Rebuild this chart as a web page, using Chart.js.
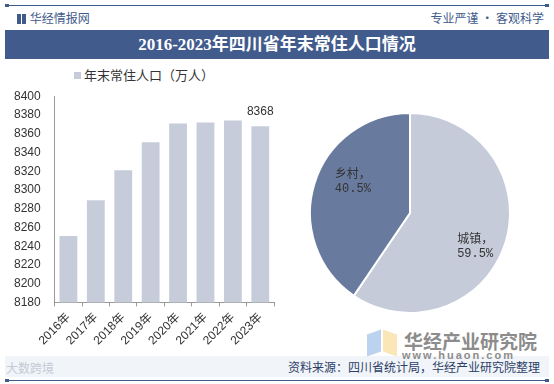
<!DOCTYPE html>
<html>
<head>
<meta charset="utf-8">
<script src="https://cdn.jsdelivr.net/npm/chart.js@4"></script>
<style>
  body { margin: 0; width: 554px; height: 384px; position: relative; overflow: hidden; background: #fff;
    font-family: "Noto Sans CJK SC", "Liberation Sans", sans-serif; }
  .topline { position: absolute; left: 5px; top: 5px; width: 544px; height: 1px; background: #3f5b8c; }
  .topline:before, .topline:after { content: ''; position: absolute; top: -1px; width: 4px; height: 3px; background: #3f5b8c; }
  .topline:before { left: 0; } .topline:after { right: 0; }
  .brand { position: absolute; left: 17px; top: 9px; font-size: 12px; color: #3f5b8c; line-height: 18px; }
  .brand i { display: inline-block; width: 4px; height: 10px; background: #3f5b8c; margin-right: 1px; vertical-align: -1px; }
  .motto { position: absolute; right: 10px; top: 9px; font-size: 12px; color: #3f5b8c; line-height: 18px; }
  .title { position: absolute; left: 5px; top: 30px; width: 544px; height: 29px; background: #415b8d; color: #fff;
    text-align: center; line-height: 29px; font-size: 17px; font-weight: bold;
    font-family: "Liberation Serif", "Noto Sans CJK SC", serif; }
  .legend { position: absolute; left: 74px; top: 66px; font-size: 13px; color: #333; line-height: 18px; }
  .legend i { display: inline-block; width: 7px; height: 7px; background: #c6ccda; margin-right: 3px; vertical-align: 1px; }
  #bar { position: absolute; left: 0; top: 83px; }
  #pie { position: absolute; left: 306px; top: 109px; }
  .band { position: absolute; left: 5px; top: 356px; width: 544px; height: 21px; background: #f1f4f8; }
  .bottomline { position: absolute; left: 5px; top: 380px; width: 544px; height: 1px; background: #3f5b8c; }
  .bottomline:before, .bottomline:after { content: ''; position: absolute; top: -1px; width: 4px; height: 3px; background: #3f5b8c; }
  .bottomline:before { left: 0; } .bottomline:after { right: 0; }
  .dsk { position: absolute; left: 6px; top: 359px; font-size: 12px; color: #c4cad6; }
  .wm { position: absolute; left: 404px; top: 327px; font-size: 19px; font-weight: bold; color: #8c8c8c; }
  .wm2 { position: absolute; left: 402px; top: 349px; font-size: 11px; font-weight: bold; color: #8c8c8c; letter-spacing: 2px;
    font-family: "Liberation Sans", sans-serif; }
  .logo1 { position: absolute; left: 367px; top: 332px; width: 14px; height: 22px; background: #bcd3f0; transform: skewY(-20deg); }
  .logo2 { position: absolute; left: 383px; top: 332px; width: 14px; height: 22px; background: #fbe6b8; transform: skewY(20deg); }
  .source { position: absolute; right: 14px; top: 358px; font-size: 12px; color: #2c3f68; line-height: 18px; }
</style>
</head>
<body>
<div class="topline"></div>
<div class="brand"><i></i><i></i> 华经情报网</div>
<div class="motto">专业严谨 • 客观科学</div>
<div class="title">2016-2023年四川省年末常住人口情况</div>
<div class="legend"><i></i>年末常住人口（万人）</div>
<canvas id="bar" width="282" height="269"></canvas>
<canvas id="pie" width="208" height="208"></canvas>
<div class="band"></div>
<div class="logo1"></div><div class="logo2"></div>
<div class="wm">华经产业研究院</div>
<div class="wm2">www.huaon.com</div>
<div class="dsk">大数跨境</div>
<div class="source">资料来源：四川省统计局，华经产业研究院整理</div>
<div class="bottomline"></div>
<script>
const years = ['2016年', '2017年', '2018年', '2019年', '2020年', '2021年', '2022年', '2023年'];
const population = [8251, 8289, 8321, 8351, 8371, 8372, 8374, 8368];
const areaNames = ['城镇', '乡村'];
const areaShares = [59.5, 40.5];

const lastLabel = {
  id: 'lastLabel',
  afterDatasetsDraw(chart) {
    const meta = chart.getDatasetMeta(0);
    const bar = meta.data[meta.data.length - 1];
    const ctx = chart.ctx;
    ctx.save();
    ctx.font = '12px "Liberation Sans", Arial';
    ctx.fillStyle = '#333';
    ctx.textAlign = 'center';
    ctx.textBaseline = 'bottom';
    ctx.fillText(String(population[population.length - 1]), bar.x, bar.y - 9);
    ctx.restore();
  }
};

new Chart(document.getElementById('bar'), {
  type: 'bar',
  data: {
    labels: years,
    datasets: [{ data: population, backgroundColor: '#c6ccda', categoryPercentage: 0.65, barPercentage: 1 }]
  },
  options: {
    responsive: false,
    animation: false,
    layout: { padding: { left: 8, right: 8, top: 4, bottom: 0 } },
    plugins: { legend: { display: false }, tooltip: { enabled: false } },
    scales: {
      y: {
        min: 8180, max: 8400,
        ticks: { stepSize: 20, color: '#333', font: { size: 12, family: '"Liberation Sans", Arial' }, padding: 6,
          callback: v => String(v) },
        grid: { display: false },
        border: { display: true, color: '#999' }
      },
      x: {
        ticks: { color: '#333', maxRotation: 45, minRotation: 45, font: { size: 12, family: '"Liberation Sans", "Noto Sans CJK SC"' }, padding: 4 },
        grid: { drawOnChartArea: false, tickLength: 4, color: '#999' },
        border: { display: true, color: '#999' }
      }
    }
  },
  plugins: [lastLabel]
});

const pieLabels = {
  id: 'pieLabels',
  afterDatasetsDraw(chart) {
    const ctx = chart.ctx;
    ctx.save();
    ctx.font = '12px "Liberation Mono", "Noto Sans CJK SC"';
    ctx.fillStyle = '#333';
    ctx.textAlign = 'left';
    chart.getDatasetMeta(0).data.forEach((arc, i) => {
      const mid = (arc.startAngle + arc.endAngle) / 2;
      const x = arc.x + Math.cos(mid) * arc.outerRadius * 0.64;
      const y = arc.y + Math.sin(mid) * arc.outerRadius * 1.1;
      ctx.textBaseline = 'bottom';
      ctx.fillText(areaNames[i] + '，', x - 14, y);
      ctx.textBaseline = 'top';
      ctx.fillText(areaShares[i].toFixed(1) + '%', x - 14, y + 2);
    });
    ctx.restore();
  }
};

new Chart(document.getElementById('pie'), {
  type: 'pie',
  data: {
    labels: areaNames,
    datasets: [{ data: areaShares, backgroundColor: ['#c5cbd9', '#687b9f'], borderColor: '#fff', borderWidth: 2 }]
  },
  options: {
    responsive: false,
    animation: false,
    layout: { padding: 3 },
    plugins: { legend: { display: false }, tooltip: { enabled: false } }
  },
  plugins: [pieLabels]
});
</script>
</body>
</html>
